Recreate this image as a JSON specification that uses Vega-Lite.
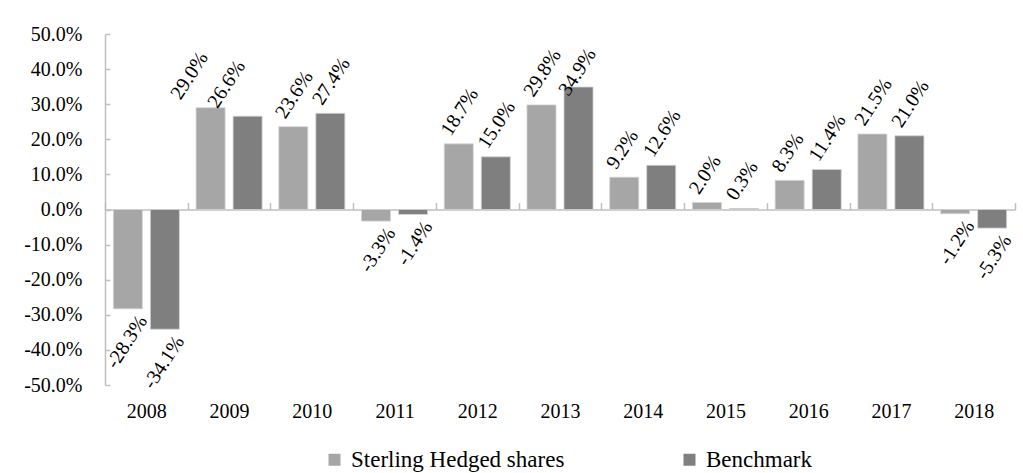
{
  "$schema": "https://vega.github.io/schema/vega-lite/v6.json",
  "width": 910,
  "height": 351,
  "autosize": {"type": "none"},
  "padding": {"left": 105, "top": 34, "right": 8, "bottom": 88},
  "background": "white",
  "config": {
    "view": {"stroke": null},
    "font": "Liberation Serif",
    "locale": {"number": {"decimal": ".", "thousands": ",", "grouping": [3], "currency": ["$", ""], "minus": "-"}},
    "axis": {"labelFont": "Liberation Serif", "labelColor": "#000000", "labelFontSize": 20, "title": null, "grid": false}
  },
  "data": {
    "values": [
      {"year": "2008", "series": "Sterling Hedged shares", "value": -0.283},
      {"year": "2008", "series": "Benchmark", "value": -0.341},
      {"year": "2009", "series": "Sterling Hedged shares", "value": 0.290},
      {"year": "2009", "series": "Benchmark", "value": 0.266},
      {"year": "2010", "series": "Sterling Hedged shares", "value": 0.236},
      {"year": "2010", "series": "Benchmark", "value": 0.274},
      {"year": "2011", "series": "Sterling Hedged shares", "value": -0.033},
      {"year": "2011", "series": "Benchmark", "value": -0.014},
      {"year": "2012", "series": "Sterling Hedged shares", "value": 0.187},
      {"year": "2012", "series": "Benchmark", "value": 0.150},
      {"year": "2013", "series": "Sterling Hedged shares", "value": 0.298},
      {"year": "2013", "series": "Benchmark", "value": 0.349},
      {"year": "2014", "series": "Sterling Hedged shares", "value": 0.092},
      {"year": "2014", "series": "Benchmark", "value": 0.126},
      {"year": "2015", "series": "Sterling Hedged shares", "value": 0.020},
      {"year": "2015", "series": "Benchmark", "value": 0.003},
      {"year": "2016", "series": "Sterling Hedged shares", "value": 0.083},
      {"year": "2016", "series": "Benchmark", "value": 0.114},
      {"year": "2017", "series": "Sterling Hedged shares", "value": 0.215},
      {"year": "2017", "series": "Benchmark", "value": 0.210},
      {"year": "2018", "series": "Sterling Hedged shares", "value": -0.012},
      {"year": "2018", "series": "Benchmark", "value": -0.053}
    ]
  },
  "encoding": {
    "x": {
      "field": "year",
      "type": "nominal",
      "scale": {"paddingInner": 0, "paddingOuter": 0},
      "axis": {
        "orient": "bottom",
        "offset": -175.5,
        "labelAngle": 0,
        "domainColor": "#bfbfbf",
        "domainWidth": 1.5,
        "ticks": true,
        "tickBand": "extent",
        "tickColor": "#bfbfbf",
        "tickWidth": 1.5,
        "tickSize": -7,
        "labelPadding": 199
      }
    },
    "xOffset": {
      "field": "series",
      "type": "nominal",
      "sort": ["Sterling Hedged shares", "Benchmark"],
      "scale": {"paddingInner": 0.216, "paddingOuter": 0.225}
    },
    "y": {
      "field": "value",
      "type": "quantitative",
      "scale": {"domain": [-0.5, 0.5], "nice": false},
      "axis": {
        "values": [-0.5, -0.4, -0.3, -0.2, -0.1, 0, 0.1, 0.2, 0.3, 0.4, 0.5],
        "format": ".1%",
        "domainColor": "#bfbfbf",
        "domainWidth": 1.5,
        "tickColor": "#bfbfbf",
        "tickWidth": 1.5,
        "tickSize": -5,
        "labelPadding": 28
      }
    }
  },
  "layer": [
    {
      "mark": {"type": "bar", "stroke": "#d4d4d4", "strokeWidth": 0.8},
      "encoding": {
        "color": {
          "field": "series",
          "type": "nominal",
          "scale": {"domain": ["Sterling Hedged shares", "Benchmark"], "range": ["#a6a6a6", "#7f7f7f"]},
          "legend": {
            "orient": "none",
            "legendX": 218,
            "legendY": 414,
            "direction": "horizontal",
            "title": null,
            "symbolType": "square",
            "symbolSize": 144,
            "symbolStrokeWidth": 0,
            "symbolOpacity": 1,
            "labelFont": "Liberation Serif",
            "labelFontSize": 23,
            "labelColor": "#000000",
            "labelLimit": 400,
            "labelOffset": 5,
            "columnPadding": 113,
            "padding": 0
          }
        }
      }
    },
    {
      "transform": [{"filter": "datum.value >= 0 && datum.year != '2009' && !(datum.year == '2013' && datum.series == 'Benchmark')"}],
      "mark": {"type": "text", "angle": -57, "align": "left", "baseline": "alphabetic", "dx": 1.5, "dy": -10.5, "fontSize": 20, "font": "Liberation Serif", "color": "#000000"},
      "encoding": {"text": {"field": "value", "type": "quantitative", "format": ".1%"}}
    },
    {
      "transform": [{"filter": "datum.year == '2009'"}],
      "mark": {"type": "text", "angle": -57, "align": "left", "baseline": "alphabetic", "dx": -10.5, "dy": -29, "fontSize": 20, "font": "Liberation Serif", "color": "#000000"},
      "encoding": {"text": {"field": "value", "type": "quantitative", "format": ".1%"}}
    },
    {
      "transform": [{"filter": "datum.year == '2013' && datum.series == 'Benchmark'"}],
      "mark": {"type": "text", "angle": -57, "align": "left", "baseline": "alphabetic", "dx": -13.9, "dy": -2.9, "fontSize": 20, "font": "Liberation Serif", "color": "#000000"},
      "encoding": {"text": {"field": "value", "type": "quantitative", "format": ".1%"}}
    },
    {
      "transform": [{"filter": "datum.value < 0"}],
      "mark": {"type": "text", "angle": -57, "align": "right", "baseline": "alphabetic", "dx": 0.8, "dy": 23.3, "fontSize": 20, "font": "Liberation Serif", "color": "#000000"},
      "encoding": {"text": {"field": "value", "type": "quantitative", "format": ".1%"}}
    }
  ]
}
